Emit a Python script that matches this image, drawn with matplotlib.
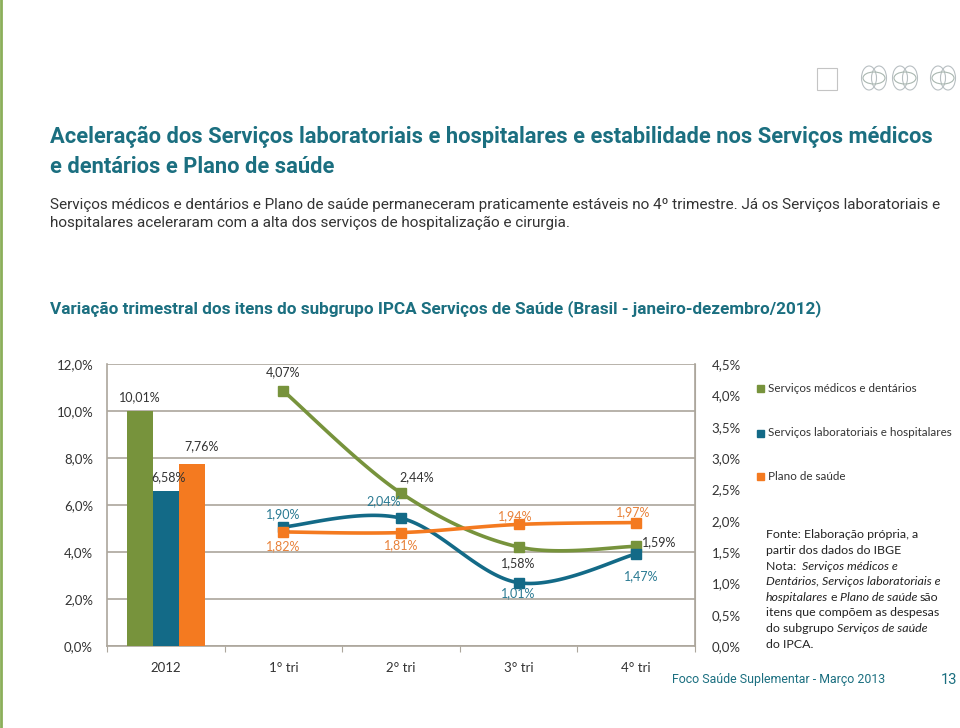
import numpy as np
import matplotlib
matplotlib.use("Agg")
import matplotlib.pyplot as plt
from matplotlib import font_manager
from matplotlib.patches import Ellipse, Rectangle

# ---- data -------------------------------------------------------------
categories = ["2012", "1° tri", "2° tri", "3° tri", "4° tri"]
series_names = ["Serviços médicos e dentários",
                "Serviços laboratoriais e hospitalares",
                "Plano de saúde"]
annual_2012 = [10.01, 6.58, 7.76]          # bars, left axis
medicos_tri = [4.07, 2.44, 1.58, 1.59]      # lines, right axis
labor_tri = [1.90, 2.04, 1.01, 1.47]
plano_tri = [1.82, 1.81, 1.94, 1.97]

colors = ["#77933C", "#136A87", "#F47A20"]
teal = "#1B6F80"
grid_c = "#ACA69C"


def has_font(name):
    return any(f.name == name for f in font_manager.fontManager.ttflist)


cond = "Roboto" if has_font("Roboto") else "DejaVu Sans"
body = "Lato" if has_font("Lato") else "DejaVu Sans"
plt.rcParams["font.family"] = [body, "DejaVu Sans"]


def fmt(v):
    return f"{v:.2f}%".replace(".", ",")


def smooth(xs, ys, n=40):
    # Excel-like smoothed line (Catmull-Rom through the points)
    xs = np.asarray(xs, float)
    ys = np.asarray(ys, float)
    px = np.concatenate([[xs[0]], xs, [xs[-1]]])
    py = np.concatenate([[ys[0]], ys, [ys[-1]]])
    outx, outy = [], []
    for i in range(1, len(px) - 2):
        p0, p1, p2, p3 = (np.array([px[j], py[j]]) for j in (i - 1, i, i + 1, i + 2))
        c1 = p1 + (p2 - p0) / 6
        c2 = p2 - (p3 - p1) / 6
        t = np.linspace(0, 1, n)[:, None]
        b = (1 - t) ** 3 * p1 + 3 * (1 - t) ** 2 * t * c1 + 3 * (1 - t) * t ** 2 * c2 + t ** 3 * p2
        outx.extend(b[:, 0])
        outy.extend(b[:, 1])
    return outx, outy


fig = plt.figure(figsize=(9.6, 7.28), dpi=100)
W, H = 960, 728
renderer = fig.canvas.get_renderer()

def fx(x):
    return x / W

def fy(y):
    return 1 - y / H

def fit_text(x, y, s, width, **kw):
    # shrink/grow font so the text spans the same width as in the page
    t = fig.text(fx(x), fy(y), s, fontsize=10, va="center", **kw)
    w = t.get_window_extent(renderer).width
    t.set_fontsize(10 * width / w)
    return t

# left page border
fig.add_artist(plt.Line2D([fx(1), fx(1)], [0, 1], color="#8BAF5A", lw=2))

# logos top right (light outlines)
for cx in [874, 905, 943]:
    for dx in (-5, 5):
        fig.add_artist(Ellipse((fx(cx + dx), fy(78)), 15 / W, 24 / H, fill=False,
                               ec="#B8BFC2", lw=0.8))
    fig.add_artist(Ellipse((fx(cx), fy(78)), 22 / W, 12 / H, fill=False, ec="#A9B7B0", lw=0.8))
fig.add_artist(Rectangle((fx(817), fy(90)), 20 / W, 22 / H, fill=False, ec="#C4C4C4", lw=0.8))

# headings
t1 = fit_text(50, 137, "Aceleração dos Serviços laboratoriais e hospitalares e estabilidade nos Serviços médicos",
              885, family=cond, color=teal, fontweight="bold")
fig.text(fx(50), fy(167), "e dentários e Plano de saúde", family=cond, fontsize=t1.get_fontsize(),
         color=teal, fontweight="bold", va="center")
p1 = fit_text(50, 205, "Serviços médicos e dentários e Plano de saúde permaneceram praticamente estáveis no 4º trimestre. "
              "Já os Serviços laboratoriais e", 898, family=cond, color="#333333")
fig.text(fx(50), fy(223), "hospitalares aceleraram com a alta dos serviços de hospitalização e cirurgia.",
         family=cond, fontsize=p1.get_fontsize(), color="#333333", va="center")
fit_text(50, 309, "Variação trimestral dos itens do subgrupo IPCA Serviços de Saúde (Brasil - janeiro-dezembro/2012)",
         772, family=cond, color=teal, fontweight="bold")

# ---- chart ------------------------------------------------------------
ax = fig.add_axes([fx(107), fy(646), 588 / W, 282 / H])
ax2 = ax.twinx()

ax.set_xlim(-0.5, len(categories) - 0.5)
ax.set_ylim(0, 12)
ax2.set_ylim(0, 4.5)

bw = 0.22
for i, (v, c) in enumerate(zip(annual_2012, colors)):
    ax.bar(0 + (i - 1) * bw, v, width=bw, color=c, zorder=3)
bar_lbl_off = [(0, 8), (3, 8), (10, 11)]
for i, v in enumerate(annual_2012):
    ax.annotate(fmt(v), (0 + (i - 1) * bw, v), xytext=bar_lbl_off[i], textcoords="offset pixels",
                ha="center", va="bottom", fontsize=9, color="#333333", zorder=5)

ax.set_yticks(np.arange(0, 12.1, 2))
ax.set_yticklabels([f"{v:.1f}%".replace(".", ",") for v in np.arange(0, 12.1, 2)])
ax.grid(axis="y", color=grid_c, lw=1.2, zorder=0)
ax.set_axisbelow(True)
ax.set_xticks(np.arange(-0.5, len(categories)), minor=False)
ax.set_xticklabels([])
ax.tick_params(axis="x", direction="out", length=4, color=grid_c)
ax.tick_params(axis="y", length=0, labelsize=9.5, labelcolor="#333333", pad=10)
for k, c in enumerate(categories):
    ax.text(k, -0.078, c, transform=ax.get_xaxis_transform(), ha="center", va="center",
            fontsize=9.5, color="#333333")
ax.spines["top"].set_visible(False)
for s in ["left", "right", "bottom"]:
    ax.spines[s].set_color(grid_c)
    ax.spines[s].set_linewidth(1.2)
ax2.spines["top"].set_visible(False)
ax2.spines["right"].set_color(grid_c)
ax2.spines["left"].set_visible(False)
ax2.spines["bottom"].set_visible(False)
ax2.set_yticks(np.arange(0, 4.51, 0.5))
ax2.set_yticklabels([f"{v:.1f}%".replace(".", ",") for v in np.arange(0, 4.51, 0.5)])
ax2.tick_params(axis="y", length=0, labelsize=9.5, labelcolor="#333333", pad=12)

xq = np.arange(1, 5)
line_series = [medicos_tri, labor_tri, plano_tri]
label_offsets = [
    [(0, 19), (16, 16), (0, -16), (23, 4)],
    [(0, 13), (-17, 17), (0, -10), (5, -22)],
    [(0, -14), (0, -13), (-3, 8), (-3, 10)],
]
label_colors = ["#333333", "#2A7A92", "#E8823A"]
for vals, c, offs, lc in zip(line_series, colors, label_offsets, label_colors):
    sx, sy = smooth(xq, vals)
    ax2.plot(sx, sy, color=c, lw=2.6, zorder=4, solid_capstyle="round")
    ax2.plot(xq, vals, ls="none", marker="s", ms=6.5, color=c, zorder=5)
    for x, v, o in zip(xq, vals, offs):
        ax2.annotate(fmt(v), (x, v), xytext=o, textcoords="offset pixels", ha="center",
                     va="center", fontsize=9, color=lc, zorder=6)

# legend
for (name, c, y) in zip(series_names, colors, [388, 433, 476]):
    fig.add_artist(Rectangle((fx(757), fy(y) - 3.5 / H), 7 / W, 7 / H, color=c))
    fig.text(fx(768), fy(y), name, fontsize=8.4, color="#333333", va="center")

# note with mixed italics
note_lines = [
    [("Fonte: Elaboração própria, a", "normal")],
    [("partir dos dados do IBGE", "normal")],
    [("Nota:  ", "normal"), ("Serviços médicos e", "italic")],
    [("Dentários, Serviços laboratoriais e", "italic")],
    [("hospitalares", "italic"), ("e", "normal"), ("Plano de saúde", "italic"), ("são", "normal")],
    [("itens que compõem as despesas", "normal")],
    [("do subgrupo ", "normal"), ("Serviços de saúde", "italic")],
    [("do IPCA.", "normal")],
]
space = 2.6
for li, parts in enumerate(note_lines):
    x = 766
    y = 535 + li * 15.6
    for k, (txt, style) in enumerate(parts):
        if k and parts[k - 1][0][-1] != " ":
            x += space
        t = fig.text(fx(x), fy(y), txt, fontsize=8.9, style=style, color="#222222", va="center")
        x += t.get_window_extent(renderer).width

# footer
fit_text(672, 680, "Foco Saúde Suplementar - Março 2013", 213, family=cond, color=teal)
fig.text(fx(957), fy(680), "13", family=cond, fontsize=10.5, color=teal, va="center", ha="right")

fig.savefig("out.png", dpi=100)
